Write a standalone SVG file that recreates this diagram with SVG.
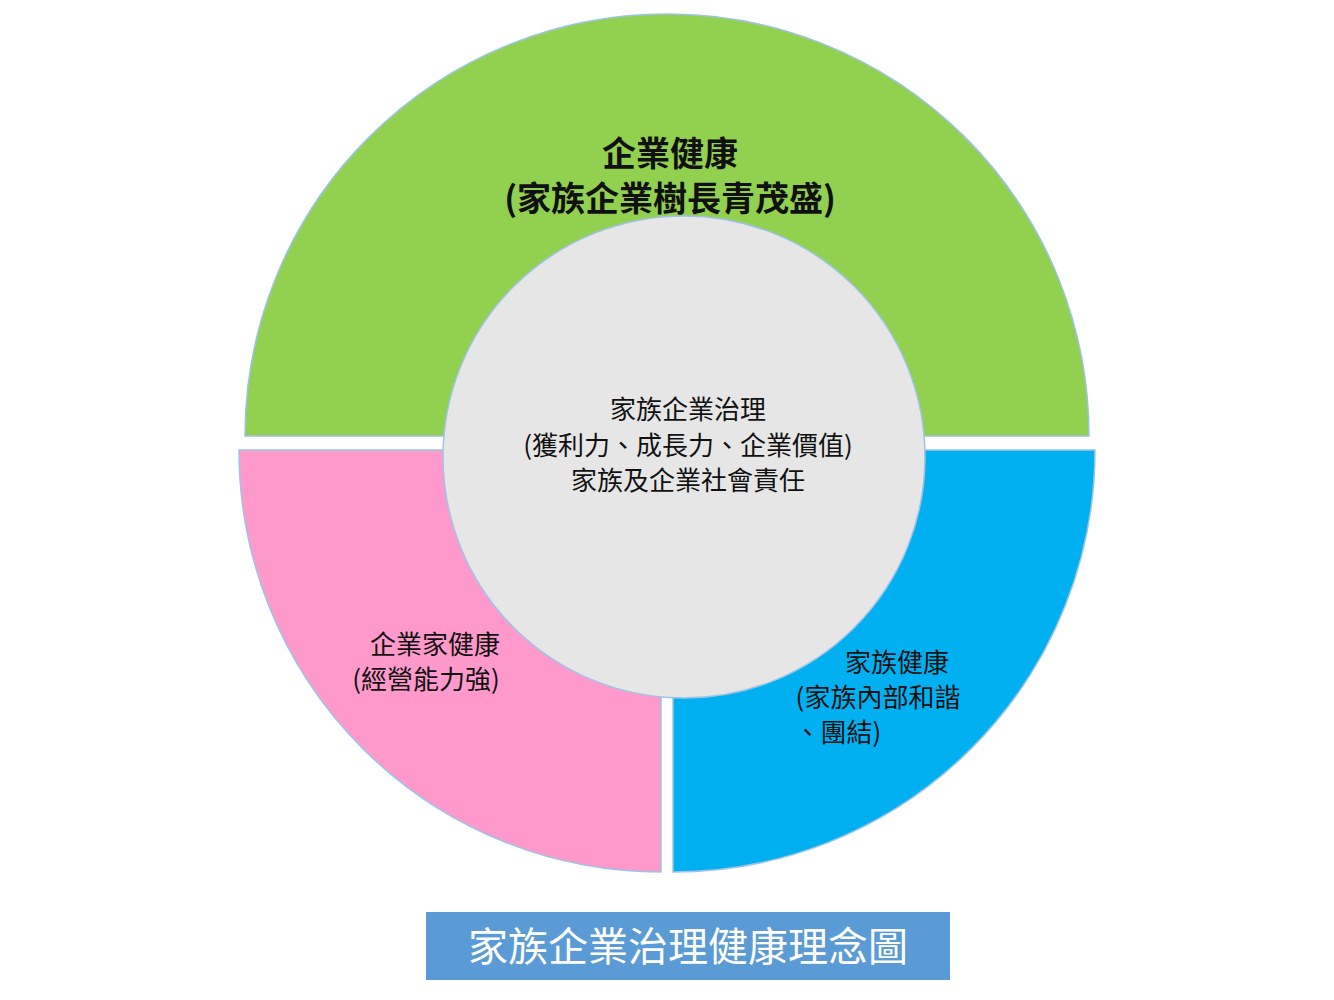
<svg xmlns="http://www.w3.org/2000/svg" width="1334" height="1000" viewBox="0 0 1334 1000">
<style>
.t{font-family:"Noto Sans CJK TC","Noto Sans CJK SC",sans-serif;fill:#111;text-anchor:middle}
.s{stroke:#9dc3e6;stroke-width:1.5}
</style>
<rect width="1334" height="1000" fill="#fff"/>
<g id="green"><path class="s" d="M245,436 A422,422 0 0 1 1089,436 Z" fill="#92d050"/>
<text class="t" x="670" y="166" font-size="34" font-weight="bold">企業健康</text>
<text class="t" x="670" y="211" font-size="34" font-weight="bold">(家族企業樹長青茂盛)</text></g>
<g id="pink"><path class="s" d="M661,450 L661,872 A422,422 0 0 1 239,450 Z" fill="#ff99cc"/></g>
<g id="blue"><path class="s" d="M673,450 L1095,450 A422,422 0 0 1 673,872 Z" fill="#00b0f0"/></g>
<g id="center"><circle class="s" cx="684" cy="457" r="241" fill="#e6e6e6"/>
<text class="t" x="688" y="419" font-size="26">家族企業治理</text>
<text class="t" x="688" y="455" font-size="26">(獲利力、成長力、企業價值)</text>
<text class="t" x="688" y="490" font-size="26">家族及企業社會責任</text></g>
<g id="pinktext"><text class="t" x="435" y="654" font-size="26">企業家健康</text>
<text class="t" x="426" y="689" font-size="26">(經營能力強)</text></g>
<g id="bluetext"><text class="t" x="897" y="672" font-size="26">家族健康</text>
<text class="t" x="878" y="707" font-size="26">(家族內部和諧</text>
<text class="t" x="838" y="742" font-size="26">、團結)</text></g>
<g id="title"><rect x="426" y="912" width="524" height="68" fill="#5b9bd5"/>
<text class="t" x="688" y="961" font-size="40" style="fill:#fff">家族企業治理健康理念圖</text></g>
<g id="connectors"/>
</svg>
